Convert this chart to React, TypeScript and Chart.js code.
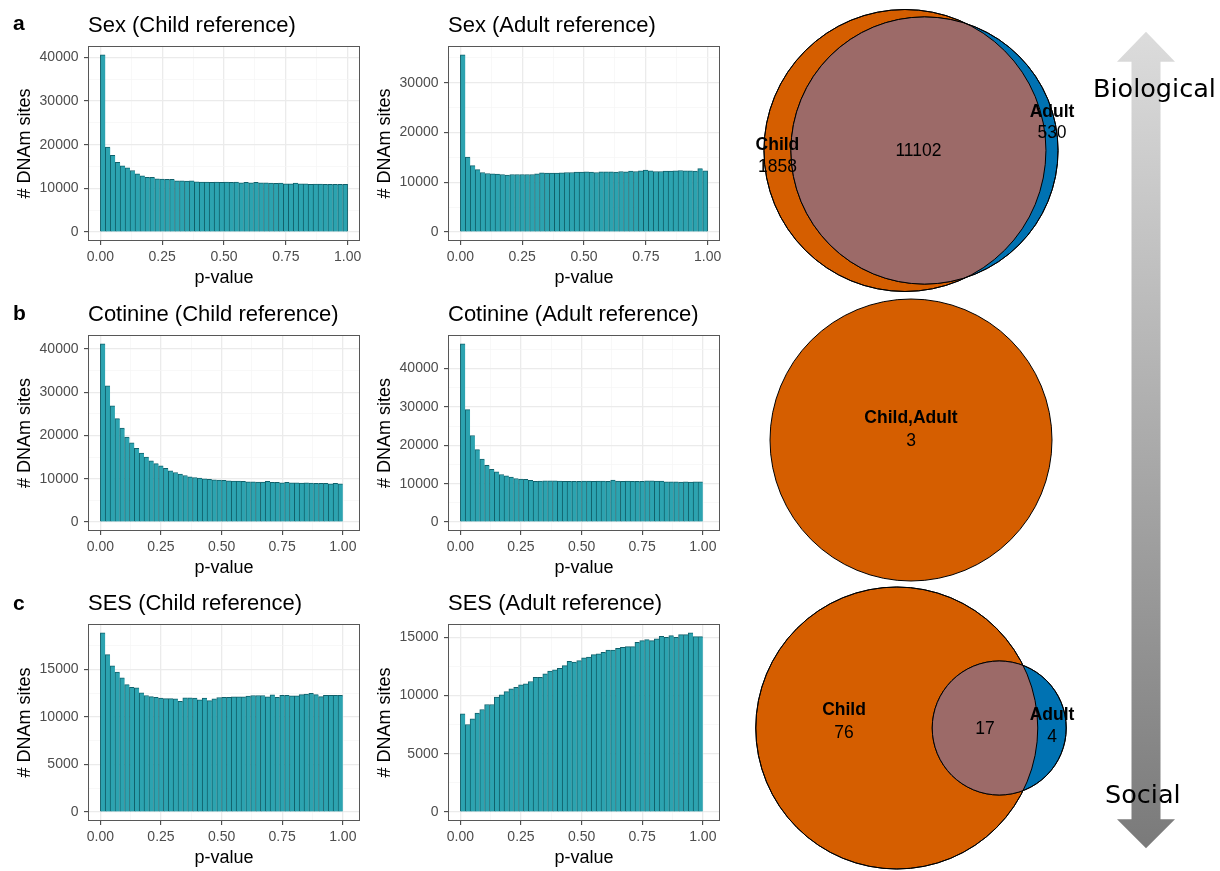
import React, { useEffect, useRef } from 'react';
import { Chart, registerables } from 'chart.js';

Chart.register(...registerables);

const FONT = '"Liberation Sans", Arial, Helvetica, sans-serif';
const ARROW_FONT = '"DejaVu Sans", sans-serif';
Chart.defaults.font.family = FONT;

// ---------------- data ----------------
const binWidth = 0.02;

const sexChildCounts = [
  40600, 19470, 17580, 16000, 15170, 14720, 14110, 13360, 12910, 12530,
  12530, 12230, 12150, 12080, 12080, 11770, 11770, 11700, 11770, 11550,
  11470, 11470, 11400, 11470, 11400, 11470, 11400, 11470, 11320, 11400,
  11320, 11400, 11320, 11320, 11250, 11170, 11250, 11090, 11090, 11250,
  11090, 11090, 10940, 11020, 11020, 10940, 10940, 10940, 10940, 10940,
];

const sexAdultCounts = [
  35630, 15100, 13380, 12580, 11990, 11790, 11720, 11660, 11590, 11460,
  11590, 11590, 11590, 11590, 11590, 11720, 11920, 11850, 11850, 11850,
  11920, 11990, 11990, 12050, 12050, 12120, 12050, 11990, 12120, 12120,
  12120, 12050, 12190, 12120, 12250, 12190, 12320, 12450, 12320, 12190,
  12190, 12250, 12250, 12320, 12380, 12320, 12320, 12250, 12780, 12320,
];

const cotinineChildCounts = [
  41180, 31470, 26890, 23910, 21700, 19630, 18330, 17030, 15970, 15050,
  14130, 13520, 12990, 12450, 11840, 11460, 11080, 10770, 10470, 10310,
  10160, 10010, 9860, 9780, 9700, 9630, 9550, 9470, 9470, 9400,
  9320, 9320, 9250, 9250, 9400, 9170, 9170, 9100, 9170, 9100,
  9100, 9020, 9100, 9020, 8940, 8940, 8940, 8870, 8940, 8870,
  0,
];

const cotinineAdultCounts = [
  46370, 29250, 22540, 18840, 16430, 14800, 13760, 13080, 12390, 12040,
  11700, 11350, 11180, 11100, 10840, 10580, 10670, 10750, 10750, 10750,
  10670, 10580, 10580, 10580, 10580, 10670, 10670, 10580, 10670, 10670,
  10580, 10920, 10670, 10580, 10670, 10580, 10580, 10580, 10750, 10750,
  10670, 10670, 10500, 10500, 10500, 10420, 10500, 10420, 10500, 10500,
  0,
];

const sesChildCounts = [
  18810, 16540, 15350, 14690, 14090, 13390, 13110, 13040, 12520, 12240,
  12130, 12060, 11960, 11920, 11920, 11890, 11640, 11990, 11990, 11960,
  11780, 11960, 11710, 11890, 12030, 12060, 12060, 12100, 12100, 12100,
  12170, 12240, 12240, 12240, 12100, 12310, 12060, 12270, 12270, 12200,
  12200, 12340, 12380, 12480, 12340, 12130, 12270, 12270, 12270, 12270,
  0,
];

const sesAdultCounts = [
  8430, 7510, 8000, 8490, 8800, 9230, 9230, 9860, 10060, 10340,
  10570, 10710, 10910, 11000, 11200, 11570, 11570, 11860, 12090, 12200,
  12340, 12570, 12940, 12860, 13000, 13230, 13290, 13510, 13570, 13710,
  13910, 13910, 14060, 14140, 14200, 14200, 14570, 14710, 14800, 14710,
  14860, 15090, 15000, 15140, 15000, 15230, 15230, 15370, 15060, 15060,
  0,
];

const xTickValues = [0, 0.25, 0.5, 0.75, 1];
const yTicks40k = [0, 10000, 20000, 30000, 40000];
const yTicks30k = [0, 10000, 20000, 30000];
const yTicks15k = [0, 5000, 10000, 15000];

const histTitles = [
  'Sex (Child reference)',
  'Sex (Adult reference)',
  'Cotinine (Child reference)',
  'Cotinine (Adult reference)',
  'SES (Child reference)',
  'SES (Adult reference)',
];
const panelLetters = ['a', 'b', 'c'];

// Venn counts: [Child only, shared, Adult only]
const vennSex = [1858, 11102, 530];
const vennCotinine = [0, 3, 0];
const vennSes = [76, 17, 4];
const vennSetNames = ['Child', 'Adult'];

const arrowLabels = ['Biological', 'Social'];

// ---------------- styles / layout ----------------
const FILL = '#2ca3b0';
const EDGE = '#10606a';
const GRID_MAJOR = '#ebebeb';
const GRID_MINOR = '#f5f5f5';
const PANEL_BORDER = '#575757';
const TICK_TEXT = '#4d4d4d';
const ORANGE = '#D55E00';
const BLUE = '#0072B2';
const OVERLAP = '#9c6a68';

const histPanels = [
  { title: histTitles[0], values: sexChildCounts, yTicks: yTicks40k, col: 0, row: 0 },
  { title: histTitles[1], values: sexAdultCounts, yTicks: yTicks30k, col: 1, row: 0 },
  { title: histTitles[2], values: cotinineChildCounts, yTicks: yTicks40k, col: 0, row: 1 },
  { title: histTitles[3], values: cotinineAdultCounts, yTicks: yTicks40k, col: 1, row: 1 },
  { title: histTitles[4], values: sesChildCounts, yTicks: yTicks15k, col: 0, row: 2 },
  { title: histTitles[5], values: sesAdultCounts, yTicks: yTicks15k, col: 1, row: 2 },
];

const ROW_TOPS = [0, 290, 580];
const ROW_PAD_TOP = [46, 45, 44];
const COL_LEFTS = [0, 360];
const HIST_W = 372;
const HIST_H = 290;

const vennPanels = [
  {
    counts: vennSex, top: 0, height: 296, cy: 150.5,
    dy: { nameA: -5.5, countA: 16.2, both: 1, nameB: -38.5, countB: -17, single: [0, 0] },
  },
  {
    counts: vennCotinine, top: 290, height: 296, cy: 150,
    dy: { nameA: 0, countA: 0, both: 0, nameB: 0, countB: 0, single: [-21.5, 1] },
  },
  {
    counts: vennSes, top: 580, height: 291, cy: 148,
    dy: { nameA: -18, countA: 5, both: 1.5, nameB: -13, countB: 9.5, single: [0, 0] },
  },
];
const VENN_LEFT = 711;
const VENN_W = 400;
const VENN_SCALE = 141; // px per unit radius of the larger set

function minorTicks(major: number[], min: number, max: number) {
  const step = major[1] - major[0];
  const out: number[] = [];
  const cands = [major[0] - step / 2, ...major.map((v) => v + step / 2)];
  cands.forEach((v) => {
    if (v > min && v < max) out.push(v);
  });
  return out;
}

const near = (list: number[], v: number) => list.some((t) => Math.abs(t - v) < 1e-9);

function HistogramPanel({ spec }: { spec: any }) {
  const ref = useRef<HTMLCanvasElement | null>(null);
  useEffect(() => {
    const canvas = ref.current;
    if (!canvas) return;
    const values: number[] = spec.values;
    const n = values.length;
    const points = values.map((v, i) => ({ x: (i + 0.5) * binWidth, y: v }));
    const xSpan = n * binWidth;
    const xMin = -0.05 * xSpan;
    const xMax = 1.05 * xSpan;
    const yTop = Math.max(...values);
    const yMin = -0.05 * yTop;
    const yMax = 1.05 * yTop;
    const xMinor = minorTicks(xTickValues, xMin, xMax);
    const yMinor = minorTicks(spec.yTicks, yMin, yMax);
    const xAll = [...xTickValues, ...xMinor].sort((a, b) => a - b);
    const yAll = [...spec.yTicks, ...yMinor].sort((a, b) => a - b);
    const letter = spec.col === 0 ? panelLetters[spec.row] : null;

    const decor = {
      id: 'decor',
      afterDatasetsDraw(chart: any) {
        const { ctx, chartArea: a } = chart;
        ctx.save();
        ctx.strokeStyle = PANEL_BORDER;
        ctx.lineWidth = 1;
        ctx.strokeRect(Math.round(a.left) + 0.5, Math.round(a.top) + 0.5, Math.round(a.width) - 1, Math.round(a.height) - 1);
        ctx.restore();
      },
      afterDraw(chart: any) {
        const { ctx, chartArea: a } = chart;
        ctx.save();
        ctx.fillStyle = '#000';
        ctx.textAlign = 'left';
        ctx.textBaseline = 'alphabetic';
        ctx.font = `22px ${FONT}`;
        ctx.fillText(spec.title, a.left, a.top - 14);
        if (letter) {
          ctx.font = `bold 21px ${FONT}`;
          ctx.fillText(letter, 13, 29.5);
        }
        ctx.restore();
      },
    };

    const gridFor = (major: number[]) => ({
      display: true,
      offset: false,
      drawOnChartArea: true,
      drawTicks: true,
      tickLength: 4,
      color: (c: any) => (c.tick && near(major, c.tick.value) ? GRID_MAJOR : GRID_MINOR),
      lineWidth: (c: any) => (c.tick && near(major, c.tick.value) ? 1.3 : 0.7),
      tickColor: (c: any) => (c.tick && near(major, c.tick.value) ? '#333333' : 'rgba(0,0,0,0)'),
      tickWidth: 1,
    });

    const chart = new Chart(canvas, {
      type: 'bar',
      data: {
        datasets: [
          {
            data: points,
            backgroundColor: FILL,
            borderColor: EDGE,
            borderWidth: (c: any) => ({ top: 1, left: 1, right: c.dataIndex === n - 1 ? 1 : 0, bottom: 0 }),
            barPercentage: 1,
            categoryPercentage: 1,
          } as any,
        ],
      },
      options: {
        animation: false,
        responsive: false,
        events: [],
        layout: { padding: { top: ROW_PAD_TOP[spec.row], right: 12, bottom: 0, left: 0 } },
        plugins: { legend: { display: false }, tooltip: { enabled: false }, title: { display: false } },
        scales: {
          x: {
            type: 'linear',
            offset: false,
            min: xMin,
            max: xMax,
            afterBuildTicks: (scale: any) => {
              scale.ticks = xAll.map((v) => ({ value: v }));
            },
            afterFit: (scale: any) => {
              scale.height = 49;
            },
            ticks: {
              autoSkip: false,
              maxRotation: 0,
              padding: 4,
              color: TICK_TEXT,
              font: { size: 14, family: FONT },
              callback: (v: any) => (near(xTickValues, Number(v)) ? Number(v).toFixed(2) : ''),
            },
            grid: gridFor(xTickValues),
            border: { display: false },
            title: {
              display: true,
              text: 'p-value',
              color: '#000',
              font: { size: 18, family: FONT },
              padding: { top: 0, bottom: 1 },
            },
          },
          y: {
            type: 'linear',
            min: yMin,
            max: yMax,
            afterBuildTicks: (scale: any) => {
              scale.ticks = yAll.map((v) => ({ value: v }));
            },
            afterFit: (scale: any) => {
              scale.width = 88;
            },
            ticks: {
              autoSkip: false,
              padding: 5.5,
              color: TICK_TEXT,
              font: { size: 14, family: FONT },
              callback: (v: any) => (near(spec.yTicks, Number(v)) ? String(Math.round(Number(v))) : ''),
            },
            grid: gridFor(spec.yTicks),
            border: { display: false },
            title: {
              display: true,
              text: '# DNAm sites',
              color: '#000',
              font: { size: 18, family: FONT },
              padding: { top: 14, bottom: 0 },
            },
          },
        },
      } as any,
      plugins: [decor],
    });
    return () => chart.destroy();
  }, [spec]);

  return (
    <canvas
      ref={ref}
      width={HIST_W}
      height={HIST_H}
      style={{ position: 'absolute', left: COL_LEFTS[spec.col], top: ROW_TOPS[spec.row], width: HIST_W, height: HIST_H }}
    />
  );
}

function lensArea(r1: number, r2: number, d: number) {
  if (d >= r1 + r2) return 0;
  if (d <= Math.abs(r1 - r2)) return Math.PI * Math.min(r1, r2) ** 2;
  const a = r1 * r1 * Math.acos((d * d + r1 * r1 - r2 * r2) / (2 * d * r1));
  const b = r2 * r2 * Math.acos((d * d + r2 * r2 - r1 * r1) / (2 * d * r2));
  const c = 0.5 * Math.sqrt((-d + r1 + r2) * (d + r1 - r2) * (d - r1 + r2) * (d + r1 + r2));
  return a + b - c;
}

function solveDistance(r1: number, r2: number, target: number) {
  let lo = Math.abs(r1 - r2);
  let hi = r1 + r2;
  for (let i = 0; i < 80; i++) {
    const mid = (lo + hi) / 2;
    if (lensArea(r1, r2, mid) > target) lo = mid;
    else hi = mid;
  }
  return (lo + hi) / 2;
}

function VennPanel({ spec }: { spec: any }) {
  const ref = useRef<HTMLCanvasElement | null>(null);
  useEffect(() => {
    const canvas = ref.current;
    if (!canvas) return;
    const [onlyA, both, onlyB] = spec.counts;
    const areaA = onlyA + both;
    const areaB = onlyB + both;
    const big = Math.max(areaA, areaB);
    const rA = Math.sqrt(areaA / big);
    const rB = Math.sqrt(areaB / big);
    const single = onlyA === 0 && onlyB === 0;
    const d = single ? 0 : solveDistance(rA, rB, (Math.PI * both) / big);
    const xA = single ? 0 : (rA - rB - d) / 2;
    const xB = xA + d;

    const half = VENN_W / 2 / VENN_SCALE;
    const yMax = spec.cy / VENN_SCALE;
    const yMin = -(spec.height - spec.cy) / VENN_SCALE;

    const pxRadius = (r: number) => (c: any) => {
      const sx = c.chart.scales.x;
      if (!sx || !isFinite(sx.left)) return 0;
      return Math.abs(sx.getPixelForValue(r) - sx.getPixelForValue(0));
    };

    const datasets: any[] = single
      ? [
          {
            label: vennSetNames.join(','),
            data: [{ x: 0, y: 0 }],
            pointRadius: pxRadius(rA),
            pointBackgroundColor: ORANGE,
            pointBorderColor: '#000',
            pointBorderWidth: 1,
            order: 1,
          },
        ]
      : [
          {
            label: vennSetNames[0],
            data: [{ x: xA, y: 0 }],
            pointRadius: pxRadius(rA),
            pointBackgroundColor: ORANGE,
            pointBorderColor: '#000',
            pointBorderWidth: 1,
            order: 2,
          },
          {
            label: vennSetNames[1],
            data: [{ x: xB, y: 0 }],
            pointRadius: pxRadius(rB),
            pointBackgroundColor: BLUE,
            pointBorderColor: '#000',
            pointBorderWidth: 1,
            order: 1,
          },
        ];

    const overlay = {
      id: 'vennOverlay',
      afterDatasetsDraw(chart: any) {
        const { ctx } = chart;
        const sx = chart.scales.x;
        const sy = chart.scales.y;
        const px = (u: number) => sx.getPixelForValue(u);
        const cyPx = sy.getPixelForValue(0);
        const unit = Math.abs(px(1) - px(0));
        const ax = px(xA);
        const bx = px(xB);
        const ra = rA * unit;
        const rb = rB * unit;
        ctx.save();
        if (!single) {
          ctx.save();
          ctx.beginPath();
          ctx.arc(ax, cyPx, ra, 0, Math.PI * 2);
          ctx.clip();
          ctx.beginPath();
          ctx.arc(bx, cyPx, rb, 0, Math.PI * 2);
          ctx.fillStyle = OVERLAP;
          ctx.fill();
          ctx.restore();
          ctx.strokeStyle = '#000';
          ctx.lineWidth = 1;
          ctx.beginPath();
          ctx.arc(ax, cyPx, ra, 0, Math.PI * 2);
          ctx.stroke();
          ctx.beginPath();
          ctx.arc(bx, cyPx, rb, 0, Math.PI * 2);
          ctx.stroke();
        }
        ctx.fillStyle = '#000';
        ctx.textAlign = 'center';
        ctx.textBaseline = 'middle';
        const bold = `bold 17.5px ${FONT}`;
        const normal = `17.5px ${FONT}`;
        if (single) {
          ctx.font = bold;
          ctx.fillText(vennSetNames.join(','), px(0), cyPx + spec.dy.single[0]);
          ctx.font = normal;
          ctx.fillText(String(both), px(0), cyPx + spec.dy.single[1]);
        } else {
          const aOnlyX = px(((xA - rA) + (xB - rB)) / 2);
          const bothX = px(((xB - rB) + (xA + rA)) / 2);
          const bOnlyX = px(((xA + rA) + (xB + rB)) / 2);
          ctx.font = bold;
          ctx.fillText(vennSetNames[0], aOnlyX, cyPx + spec.dy.nameA);
          ctx.fillText(vennSetNames[1], bOnlyX, cyPx + spec.dy.nameB);
          ctx.font = normal;
          ctx.fillText(String(onlyA), aOnlyX, cyPx + spec.dy.countA);
          ctx.fillText(String(onlyB), bOnlyX, cyPx + spec.dy.countB);
          ctx.fillText(String(both), bothX, cyPx + spec.dy.both);
        }
        ctx.restore();
      },
    };

    const chart = new Chart(canvas, {
      type: 'scatter',
      data: { datasets },
      options: {
        animation: false,
        responsive: false,
        events: [],
        layout: { autoPadding: false, padding: 0 },
        plugins: { legend: { display: false }, tooltip: { enabled: false } },
        scales: {
          x: { type: 'linear', display: false, min: -half, max: half },
          y: { type: 'linear', display: false, min: yMin, max: yMax },
        },
      } as any,
      plugins: [overlay],
    });
    return () => chart.destroy();
  }, [spec]);

  return (
    <canvas
      ref={ref}
      width={VENN_W}
      height={spec.height}
      style={{ position: 'absolute', left: VENN_LEFT, top: spec.top, width: VENN_W, height: spec.height }}
    />
  );
}

function GradientArrow() {
  const cx = 1146;
  const tipTop = 31.7;
  const headTop = 61.7;
  const headBottom = 819.3;
  const tipBottom = 848.3;
  const hw = 29;
  const sw = 14.5;
  const pts = [
    [cx, tipTop], [cx + hw, headTop], [cx + sw, headTop], [cx + sw, headBottom], [cx + hw, headBottom],
    [cx, tipBottom], [cx - hw, headBottom], [cx - sw, headBottom], [cx - sw, headTop], [cx - hw, headTop],
  ].map((p) => p.join(',')).join(' ');
  return (
    <svg width={1220} height={871} style={{ position: 'absolute', left: 0, top: 0, pointerEvents: 'none' }}>
      <defs>
        <linearGradient id="arrowGrad" x1="0" y1="0" x2="0" y2="1">
          <stop offset="0" stopColor="#dcdcdc" />
          <stop offset="1" stopColor="#7a7a7a" />
        </linearGradient>
      </defs>
      <polygon points={pts} fill="url(#arrowGrad)" />
      <text x={1093} y={97} fontFamily={ARROW_FONT} fontSize={25.5} fill="#000">{arrowLabels[0]}</text>
      <text x={1105} y={803} fontFamily={ARROW_FONT} fontSize={25.5} fill="#000">{arrowLabels[1]}</text>
    </svg>
  );
}

export default function App() {
  return (
    <div style={{ position: 'fixed', left: 0, top: 0, width: 1220, height: 871, background: '#fff', overflow: 'hidden' }}>
      {histPanels.map((p, i) => (
        <HistogramPanel key={'h' + i} spec={p} />
      ))}
      {vennPanels.map((p, i) => (
        <VennPanel key={'v' + i} spec={p} />
      ))}
      <GradientArrow />
    </div>
  );
}
